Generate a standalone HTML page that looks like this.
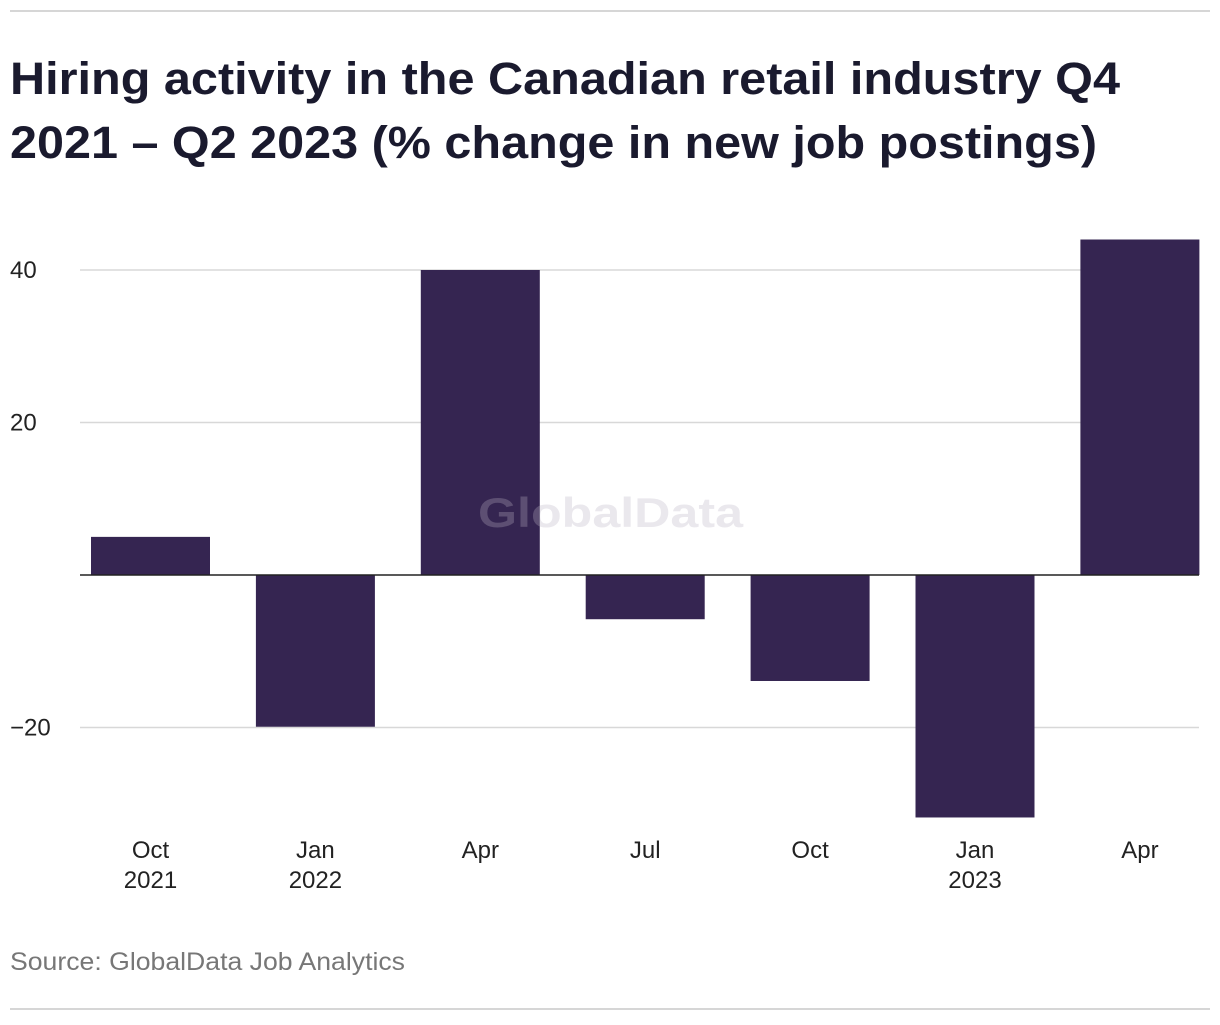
<!DOCTYPE html>
<html><head><meta charset="utf-8"><style>
body{margin:0;background:#fff;width:1220px;height:1020px;overflow:hidden;font-family:"Liberation Sans",sans-serif}
</style></head><body>
<svg width="1220" height="1020" xmlns="http://www.w3.org/2000/svg">
<line x1="10" y1="11" x2="1210" y2="11" stroke="#d6d6d6" stroke-width="2"/>
<text x="10" y="94" font-size="45" font-weight="bold" fill="#1a1a2e" textLength="1110" lengthAdjust="spacingAndGlyphs">Hiring activity in the Canadian retail industry Q4</text>
<text x="10" y="158" font-size="45" font-weight="bold" fill="#1a1a2e" textLength="1087" lengthAdjust="spacingAndGlyphs">2021 – Q2 2023 (% change in new job postings)</text>
<g id="grid"></g>
<g id="bars"></g>
<text x="478" y="527" font-size="42" font-weight="bold" fill="#bbb4c4" fill-opacity="0.3" textLength="265" lengthAdjust="spacingAndGlyphs">GlobalData</text>
<line x1="80" y1="575" x2="1199" y2="575" stroke="#222" stroke-width="1.5"/>
<g id="xlabels"></g>
<text x="10" y="970" font-size="25" fill="#777" textLength="395" lengthAdjust="spacingAndGlyphs">Source: GlobalData Job Analytics</text>
<line x1="10" y1="1009" x2="1210" y2="1009" stroke="#d6d6d6" stroke-width="2"/>
</svg>
<script>
const categories=["Oct","Jan","Apr","Jul","Oct","Jan","Apr"];
const years=["2021","2022","","","","2023",""];
const values=[5,-19.9,40,-5.8,-13.9,-31.8,44];
const yTicks=[-20,20,40];
const tickLabels=["−20","20","40"];
const NS="http://www.w3.org/2000/svg";
function y(v){return 575-v*7.625;}
function xc(i){return 150.5+i*164.9;}
const grid=document.getElementById('grid');
yTicks.forEach((t,k)=>{
 const l=document.createElementNS(NS,'line');
 l.setAttribute('x1',80);l.setAttribute('x2',1199);l.setAttribute('y1',y(t));l.setAttribute('y2',y(t));
 l.setAttribute('stroke','#d8d8d8');l.setAttribute('stroke-width','1.5');
 
 
 grid.appendChild(l);
 const tx=document.createElementNS(NS,'text');
 tx.setAttribute('x',10);tx.setAttribute('y',y(t)+8);tx.setAttribute('font-size','24');tx.setAttribute('fill','#222');
 tx.textContent=tickLabels[k];
 
 
 grid.appendChild(tx);
});
const bars=document.getElementById('bars'),xl=document.getElementById('xlabels');
values.forEach((v,i)=>{
 const r=document.createElementNS(NS,'rect');
 r.setAttribute('x',xc(i)-59.5);r.setAttribute('width',119);
 r.setAttribute('y',Math.min(y(v),y(0)));r.setAttribute('height',Math.abs(y(v)-y(0)));
 r.setAttribute('fill','#352551');
 
 
 bars.appendChild(r);
 [categories[i],years[i]].forEach((s,j)=>{
  if(!s)return;
  const t=document.createElementNS(NS,'text');
  t.setAttribute('x',xc(i));t.setAttribute('y',858+j*30);t.setAttribute('font-size','24');
  t.setAttribute('text-anchor','middle');t.setAttribute('fill','#222');t.textContent=s;
  
  
  xl.appendChild(t);
 });
});
</script>
</body></html>
